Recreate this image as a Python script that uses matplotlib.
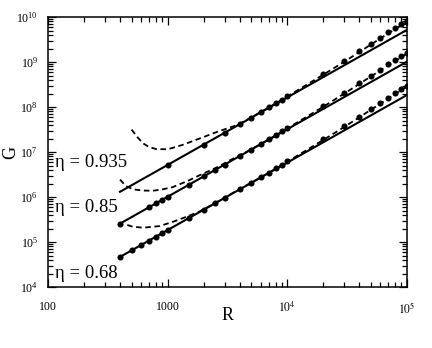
import numpy as np
import matplotlib

matplotlib.use("Agg")
import matplotlib.pyplot as plt
from matplotlib.ticker import LogLocator, FuncFormatter, NullFormatter

plt.rcParams["font.family"] = ["Liberation Serif", "DejaVu Serif"]
plt.rcParams["mathtext.fontset"] = "stix"
plt.rcParams["lines.scale_dashes"] = False

# ---------------------------------------------------------------------------
# Data
# ---------------------------------------------------------------------------
etas = ["0.935", "0.85", "0.68"]

# straight power-law fits (end points)
R_line = [400, 1e5]
G_line_935 = [1.31e6, 5.19e9]
G_line_85 = [2.57e5, 1.02e9]
G_line_68 = [4.68e4, 1.85e8]

# computed points (dots)
R_dots_935 = [1000, 2000, 3000, 4000, 5000, 6000, 7000, 8000, 9000, 1e4,
              2e4, 3e4, 4e4, 5e4, 6e4, 7e4, 8e4, 9e4, 1e5]
G_dots_935 = [5.19e6, 1.47e7, 2.70e7, 4.15e7, 5.80e7, 7.71e7, 9.84e7, 1.22e8,
              1.47e8, 1.74e8, 5.39e8, 1.06e9, 1.73e9, 2.56e9, 3.48e9, 4.55e9,
              5.75e9, 7.02e9, 8.04e9]

R_dots_85 = [400, 700, 800, 900, 1000, 1500, 2000, 2500, 3000, 4000, 5000,
             6000, 7000, 8000, 9000, 1e4, 2e4, 3e4, 4e4, 5e4, 6e4, 7e4, 8e4,
             9e4, 1e5]
G_dots_85 = [2.57e5, 5.96e5, 7.27e5, 8.68e5, 1.02e6, 1.87e6, 2.87e6, 4.02e6,
             5.28e6, 8.13e6, 1.14e7, 1.51e7, 1.93e7, 2.38e7, 2.87e7, 3.40e7,
             1.06e8, 2.08e8, 3.39e8, 5.02e8, 6.82e8, 8.91e8, 1.13e9, 1.37e9,
             1.61e9]

R_dots_68 = [400, 500, 600, 700, 800, 900, 1000, 1500, 2000, 2500, 3000, 4000,
             5000, 6000, 7000, 8000, 9000, 1e4, 2e4, 3e4, 4e4, 5e4, 6e4, 7e4,
             8e4, 9e4, 1e5]
G_dots_68 = [4.68e4, 6.54e4, 8.6e4, 1.08e5, 1.32e5, 1.58e5, 1.85e5, 3.40e5,
             5.23e5, 7.31e5, 9.6e5, 1.48e6, 2.07e6, 2.75e6, 3.51e6, 4.33e6,
             5.23e6, 6.19e6, 1.92e7, 3.78e7, 6.17e7, 9.13e7, 1.24e8, 1.62e8,
             2.05e8, 2.50e8, 3.0e8]

# approximate model (dashed)
R_dash_935 = [500, 560, 620, 700, 800, 1000, 1340, 1850, 2600, 3800, 5000,
              7000, 1e4, 2e4, 3e4, 5e4, 7e4, 1e5]
G_dash_935 = [3.16e7, 2.14e7, 1.58e7, 1.29e7, 1.17e7, 1.15e7, 1.45e7, 2.0e7,
              2.82e7, 3.98e7, 5.89e7, 9.77e7, 1.72e8, 5.25e8, 1.02e9, 2.45e9,
              4.37e9, 7.76e9]

R_dash_85 = [400, 450, 520, 620, 750, 900, 1100, 1475, 1900, 2500, 3500, 5000,
             7000, 1e4, 2e4, 3e4, 5e4, 7e4, 1e5]
G_dash_85 = [2.45e6, 1.74e6, 1.48e6, 1.40e6, 1.38e6, 1.48e6, 1.66e6, 2.29e6,
             3.16e6, 4.37e6, 7.08e6, 1.15e7, 1.91e7, 3.35e7, 1.02e8, 2.0e8,
             4.79e8, 8.51e8, 1.55e9]

R_dash_68 = [460, 513, 600, 664, 858, 1107, 1430, 1850, 2400, 3500, 5000, 7000,
             1e4, 2e4, 3e4, 5e4, 7e4, 1e5]
G_dash_68 = [2.40e5, 2.19e5, 2.11e5, 2.12e5, 2.27e5, 2.82e5, 3.63e5, 4.79e5,
             6.92e5, 1.23e6, 2.09e6, 3.47e6, 6.10e6, 1.86e7, 3.63e7, 8.71e7,
             1.55e8, 2.88e8]


def main() -> None:
    fig = plt.figure(figsize=(4.32, 3.48), dpi=100)
    ax = fig.add_axes([0.111, 0.175, 0.831, 0.776])

    series = [
        (G_line_935, R_dots_935, G_dots_935, R_dash_935, G_dash_935),
        (G_line_85, R_dots_85, G_dots_85, R_dash_85, G_dash_85),
        (G_line_68, R_dots_68, G_dots_68, R_dash_68, G_dash_68),
    ]
    for G_line, R_d, G_d, R_m, G_m in series:
        ax.plot(R_line, G_line, color="black", linewidth=1.5)
        ax.plot(R_d, G_d, "o", color="black", markersize=4.4,
                markeredgewidth=0)
        ax.plot(R_m, G_m, color="black", linewidth=1.3,
                dashes=(4.0, 2.6))

    ax.set_xscale("log")
    ax.set_yscale("log")
    ax.set_xlim(100, 1e5)
    ax.set_ylim(1e4, 1e10)

    # ticks: inward on all four sides
    ax.xaxis.set_major_locator(LogLocator(base=10, numticks=10))
    ax.yaxis.set_major_locator(LogLocator(base=10, numticks=10))
    ax.xaxis.set_minor_locator(LogLocator(base=10, subs=np.arange(2, 10), numticks=20))
    ax.yaxis.set_minor_locator(LogLocator(base=10, subs=np.arange(2, 10), numticks=20))
    ax.xaxis.set_minor_formatter(NullFormatter())
    ax.yaxis.set_minor_formatter(NullFormatter())

    def xfmt(v, pos):
        if v < 5000:
            return f"{int(round(v))}"
        return r"$10^{%d}$" % int(round(np.log10(v)))

    ax.xaxis.set_major_formatter(FuncFormatter(xfmt))
    ax.tick_params(which="both", direction="in", top=True, right=True,
                   width=0.9, labelsize=8.5)
    ax.tick_params(which="major", length=6)
    ax.tick_params(which="minor", length=3.5)
    ax.tick_params(axis="x", which="major", pad=10)
    ax.tick_params(axis="y", which="major", pad=7)
    for sp in ax.spines.values():
        sp.set_linewidth(1.1)

    ax.set_xlabel("R", fontsize=13, va="center")
    ax.set_ylabel("G", fontsize=13, va="center")
    ax.xaxis.set_label_coords(0.5, -0.107)
    ax.yaxis.set_label_coords(-0.103, 0.5)

    label_y = [0.463, 0.296, 0.052]
    for eta, yy in zip(etas, label_y):
        ax.text(0.02, yy, "η = " + eta, transform=ax.transAxes,
                fontsize=13.5, va="center", ha="left")

    fig.savefig("out.png", dpi=100)


if __name__ == "__main__":
    main()
